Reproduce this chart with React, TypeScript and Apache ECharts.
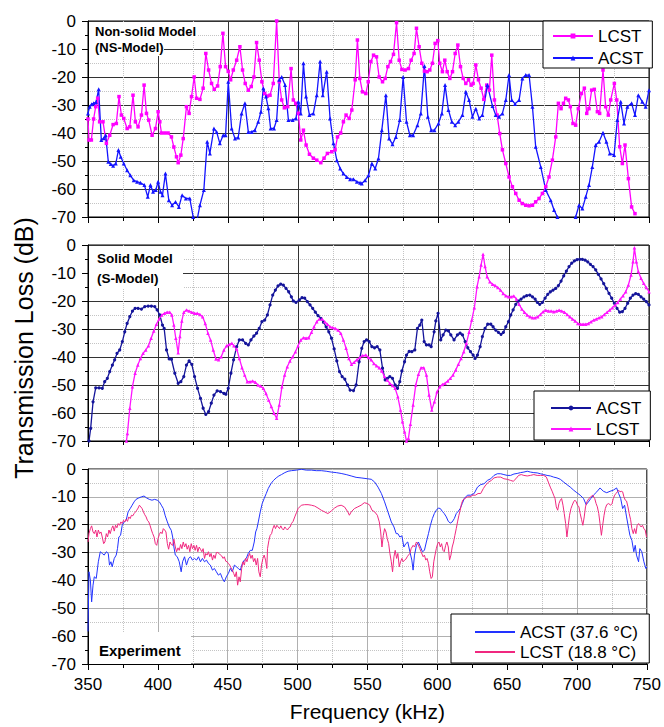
import React, { useEffect, useRef } from 'react';
import * as echarts from 'echarts';

const FONT = '"Liberation Sans", Arial, Helvetica, sans-serif';

const FREQ_MIN = 350;
const FREQ_MAX = 750;
const FREQ_STEP = 50;
const TL_MIN = -70;
const TL_MAX = 0;
const TL_STEP = 10;

const panelTitles = ['Non-solid Model', '(NS-Model)', 'Solid Model', '(S-Model)', 'Experiment'];
const legendNames = {
  ns: ['NS LCST', 'NS ACST'],
  s: ['S ACST', 'S LCST'],
  exp: ['ACST (37.6 °C)', 'LCST (18.8 °C)'],
};

// Non-solid model (top panel)
const nsLcst: [number, number][] = [
  [350, -35], [350.7, -42.5], [352.4, -42.5], [354, -35], [355.5, -30.6], [356.9, -27.6], [358.3, -36], [360.7, -36],
  [363.1, -43.7], [365.5, -40.8], [367.9, -37], [370.2, -36.6], [372.1, -27], [373.8, -33.6], [375.5, -34.8], [377.9, -38.4],
  [379.8, -37.8], [382.1, -26.5], [383.8, -36], [385.7, -37.8], [388.1, -33.6], [390, -22.9], [391.7, -33], [393.3, -35.4],
  [395.7, -40.8], [398.1, -38.4], [400, -32.4], [401.2, -36], [402.4, -40], [404.8, -40], [407.1, -40], [409.5, -41.4],
  [411.2, -45], [413.1, -48.5], [414.3, -50.6], [416.2, -47.9], [417.9, -42], [420.2, -30.6], [422.1, -33], [423.8, -27],
  [425.7, -20], [427.4, -27.6], [429.8, -28], [432.1, -24], [434, -11.6], [436, -17.5], [438.1, -22.3], [440, -24.4],
  [442.4, -23.2], [444.3, -16.3], [446.2, -4.4], [448.1, -16.3], [450, -18], [451.7, -21], [453.6, -17.5], [456, -14],
  [458.3, -9.2], [460.2, -17.5], [462.1, -22.3], [464.3, -24.7], [466.4, -23.4], [468.3, -20], [470.2, -7.7], [472.1, -14],
  [474, -21.7], [476, -25.9], [477.9, -26.8], [479.8, -26.5], [482.1, -22.3], [484.5, 0], [486.4, -21.7], [488.1, -28.2],
  [490, -31], [492.4, -30.6], [494.8, -17], [496.4, -28.2], [498.1, -29.4], [500, -33], [501.7, -42.5], [503.6, -39],
  [505.5, -44.3], [507.9, -47.6], [510.7, -49], [513.1, -49.7], [516, -50.6], [518.3, -49], [520.7, -47.3], [523.8, -46.7],
  [526.2, -46], [527.9, -41.4], [530.2, -40], [532.1, -36], [534, -33.6], [536.2, -34.8], [538.1, -31.8], [540.5, -21],
  [542.1, -6.8], [543.8, -20.5], [545.7, -25.3], [548.1, -25.9], [549.8, -21.7], [551.7, -14.5], [553.6, -12.2], [555.7, -12.8],
  [557.6, -20], [560, -21.7], [561.9, -20.5], [563.8, -16.3], [565.7, -14.5], [567.8, -11.9], [570, -0.6], [571.9, -14],
  [573.8, -17.3], [576.1, -17.5], [578.5, -17], [580.4, -14], [582.5, -11.6], [584.2, -2.6], [586.1, -9.2], [588, -15.1],
  [589.9, -17.9], [591.8, -18.1], [593.7, -17.5], [595.6, -15.1], [597.5, -8], [599.4, -7], [600.8, -15.1], [602.7, -18.1],
  [604.4, -14], [606.1, -18.1], [608, -20.5], [609.9, -18.1], [611.8, -11.6], [613.7, -8.6], [615.6, -16.3], [617.5, -20.5],
  [619.4, -22.3], [621.3, -21], [623.2, -22.9], [624.6, -22.3], [626.5, -15.7], [628.4, -21], [630.3, -24], [632.2, -28],
  [634.3, -22.9], [636.2, -24.7], [637.9, -12.2], [639.8, -28.2], [641.7, -33.6], [643.6, -40.2], [645.5, -46], [647.9, -50.9],
  [650.2, -55.7], [652.6, -59.2], [655, -61.6], [657.4, -64], [659.7, -65.2], [662.1, -65.8], [664.5, -66], [666.9, -65.8],
  [669.2, -64.6], [671.6, -63.4], [674, -61.6], [676.4, -59.2], [678.7, -55.7], [681.1, -49.7], [683.5, -41.4], [685.4, -29.4],
  [687.3, -31.3], [689, -29.4], [690.6, -27.6], [692.5, -28.2], [693.9, -30.6], [695.8, -36.6], [697.7, -37.2], [699.6, -31.3],
  [701.8, -25.9], [703.9, -24], [705.6, -33], [707.2, -31.3], [709.1, -24.7], [711, -24.4], [713.2, -32.4], [714.8, -33],
  [717.2, -17.5], [719.1, -30.6], [721, -33.6], [722.7, -28.2], [725.3, -22.3], [727, -28.2], [729.1, -44.9], [731, -50.9],
  [732.9, -44.3], [735.3, -56.3], [737.6, -66.4], [740, -68.8],
];

const nsAcst: [number, number][] = [
  [350, -33], [351.2, -30.6], [352.6, -29.7], [354, -29.4], [355.7, -29], [357.6, -24.4], [359.5, -42.5], [361.2, -41.9],
  [362.6, -40.8], [364.5, -50.3], [366.2, -51.1], [367.9, -51.7], [369.8, -50.9], [371.7, -46.1], [373.3, -48.5], [375.5, -50.9],
  [377.9, -53.3], [380.2, -55.1], [382.6, -56.9], [385, -57.4], [387.4, -57.8], [390.2, -58.6], [392.6, -62.8], [394.5, -58.6],
  [396.4, -61], [398.3, -60.4], [400, -57.4], [401.7, -61], [403.1, -62.2], [405.2, -54.5], [407.6, -64], [410, -65.8],
  [412.4, -64.6], [414.8, -66.4], [417.1, -62.2], [419.8, -63.4], [422.6, -63.4], [425, -70], [427.4, -72], [429.8, -65.8],
  [432.6, -60.4], [435, -43.1], [436.9, -47.3], [439.8, -38.4], [441.7, -39.6], [444, -43.7], [446.4, -40.8], [448.1, -40.8],
  [450, -21.7], [452.4, -38.4], [454.8, -42], [457.1, -41.6], [459.5, -33], [461.9, -29.4], [464.3, -39.6], [466.7, -39.6],
  [469, -39], [471.4, -36], [473.3, -32.4], [475, -24], [476.9, -27], [478.6, -31.2], [480.2, -38.4], [482.6, -38.4],
  [484.5, -35.4], [486.4, -21], [488.1, -20], [490.5, -22.9], [492.9, -35.4], [495.9, -35.4], [498.3, -34.8], [500, -28.8],
  [501.7, -33], [503.6, -15.1], [505.5, -27], [507.9, -33.6], [510.7, -33], [513.1, -26.5], [515.5, -14.5], [517.4, -26.5],
  [520.2, -18.1], [522.6, -34.8], [525, -43.7], [527.4, -49.7], [529.8, -52.7], [532.1, -54.5], [534.5, -55.7], [536.9, -56.5],
  [539.3, -56.5], [541.7, -57.4], [544, -57.8], [545.2, -58], [547.6, -56.9], [550, -55.1], [552.4, -50.9], [554.8, -52.7],
  [557.1, -49.1], [559.5, -39], [562.4, -26.5], [564.7, -42], [567.1, -44], [569.5, -41.4], [572.3, -35.4], [574.7, -20],
  [577.1, -36], [579.5, -40.8], [581.8, -40.8], [584.9, -37.2], [587.3, -33], [589.9, -16.1], [592.3, -34.2], [594.7, -39],
  [597, -39], [599.9, -36.6], [602.3, -33], [604.6, -22.9], [607, -31.8], [609.4, -36], [611.8, -37.2], [614.1, -36],
  [617, -33.6], [619.4, -25.3], [621.7, -28.2], [624.1, -34.2], [626.5, -31.3], [628.9, -34.8], [631.2, -33.6], [634.8, -22.9],
  [638.4, -30.4], [640.7, -33.6], [643.1, -34.2], [645.5, -33], [647.9, -28.2], [650.2, -19.3], [652.1, -28.2], [654.5, -29.6],
  [657.4, -28.2], [659.7, -20.5], [662.1, -19.3], [664.5, -19.3], [666.9, -30.6], [669.2, -44.9], [672.8, -52.1], [676.4, -60.4],
  [679.9, -64], [682.3, -67.5], [684.7, -70], [688.2, -72], [694.2, -72], [697.7, -70], [700.1, -65.8], [702.5, -67],
  [704.9, -62.8], [707.2, -58.6], [709.6, -52.1], [712, -44.3], [714.4, -43.1], [717.2, -39.9], [719.6, -43.1], [722, -47.3],
  [725.1, -47.9], [727.4, -35.4], [729.8, -28.8], [732.2, -36.6], [734.6, -30.6], [737.6, -29.4], [740, -33.6], [742.4, -26.5],
  [745.2, -28.8], [747.6, -30.6], [750, -24.7],
];

// Solid model (middle panel)
const sAcst: [number, number][] = [
  [350.7, -70], [351.9, -65.5], [353.6, -56], [355.5, -51], [357.9, -51], [360.2, -51.2], [361.9, -48.8], [363.8, -47.6],
  [365.5, -45.2], [367.4, -42.9], [369, -41], [370.7, -38.7], [372.6, -37.5], [374.5, -34.5], [376.2, -31], [377.9, -28],
  [379.8, -25.6], [381.7, -23.6], [383.6, -22.6], [385.7, -22.6], [388.1, -22.9], [390.5, -22], [392.9, -21.8], [395.2, -21.8],
  [397.6, -22], [399.3, -23.2], [401.2, -25], [403.1, -28.6], [404.3, -29.8], [406, -37.5], [407.9, -40.7], [409.5, -40.8],
  [411.9, -45.8], [414.3, -49.4], [416.2, -48.8], [418.3, -47], [420.2, -42.9], [422.1, -41.4], [424, -42.6], [426, -47],
  [428.1, -51.2], [430.2, -54.8], [432.1, -58.3], [434, -60.5], [436, -59.5], [437.9, -56.5], [439.8, -53.6], [442.1, -52.1],
  [444.5, -52.4], [446.9, -53], [448.3, -53.3], [450, -51.2], [451.9, -45.8], [453.8, -41], [456, -36.3], [457.9, -33.9],
  [460.2, -33.9], [462.4, -35.1], [464.3, -35.7], [466.2, -33.9], [468.3, -32.5], [470.2, -31.5], [472.1, -29.8], [474, -27.4],
  [476, -26.8], [477.9, -25], [479.8, -21.4], [481.7, -17.9], [483.6, -16.1], [485.5, -14.6], [487.4, -14], [489.3, -14.3],
  [491.2, -15.5], [493.1, -16.7], [495, -18.5], [496.4, -20], [498.3, -20.5], [500.7, -19.6], [502.6, -18.8], [504.5, -19],
  [506.4, -20.2], [508.3, -21.4], [510.2, -22.6], [512.1, -24], [514, -25.2], [516, -26.2], [517.9, -27.6], [519.8, -29.2],
  [521.7, -31], [523.6, -33.3], [525.5, -37.1], [527.4, -41.4], [529.3, -45.2], [531.2, -47], [533.1, -47.9], [535, -50],
  [536.9, -51.8], [539.3, -52], [541.2, -50], [543.3, -41.7], [545.2, -36.9], [546.9, -34.5], [548.6, -33.9], [550.5, -34.5],
  [552.4, -36.3], [554.3, -36.7], [556.2, -36.3], [558.1, -37.5], [560, -44], [561.9, -48.2], [563.5, -47.6], [565.2, -47],
  [567.1, -47.6], [569, -50], [570.7, -51.2], [572.3, -48.8], [573.8, -45], [575.7, -41.7], [577.1, -39.3], [579, -38],
  [580.9, -38.1], [583, -37.5], [584.9, -29.8], [586.6, -28.6], [588, -26.8], [589.7, -34.5], [591.3, -35.7], [593.2, -35.7],
  [594.7, -36.3], [596.8, -31], [598, -27.1], [599.6, -24.4], [601.5, -33.9], [603.2, -32.1], [605.1, -30.4], [607, -30.7],
  [608.7, -32.1], [611, -33.9], [613.4, -32.1], [615.3, -31.5], [617, -32.1], [618.9, -34.5], [620.8, -36.7], [622.7, -38.1],
  [624.6, -39.3], [626, -40.5], [627.7, -39.3], [629.6, -36.3], [631.2, -32.7], [633.1, -29.8], [635, -28.3], [637.2, -28.3],
  [638.8, -29.2], [640.7, -30.4], [642.6, -31.2], [644.5, -31.9], [646.2, -31.2], [647.9, -29.2], [649.8, -27.4], [651.4, -25],
  [653.1, -23.2], [655, -21.2], [656.9, -20], [658.8, -19.3], [660.9, -18.5], [662.8, -18.1], [665, -17.9], [666.9, -18.5],
  [668.8, -19.3], [670.4, -20.5], [672.1, -21.2], [674, -20.5], [675.9, -19], [677.8, -17.6], [679.7, -16.7], [681.6, -16.1],
  [683.5, -15.5], [685.4, -14.5], [687.3, -12.9], [689.2, -11], [691.1, -9.3], [693, -7.7], [694.9, -6.5], [696.8, -5.7],
  [698.7, -5.2], [700.6, -5.1], [702.5, -5.1], [704.4, -5.4], [706.3, -6], [708.2, -6.9], [710.1, -7.7], [712, -8.9],
  [713.9, -10.5], [715.8, -12.1], [717.7, -13.8], [719.6, -15.5], [721.5, -17.3], [723.4, -19], [725.3, -20.8], [727.2, -22.6],
  [729.1, -24], [731, -23.8], [732.9, -22.6], [734.8, -20.8], [736.7, -19], [738.6, -17.9], [740.5, -17.4], [742.4, -17.6],
  [744.3, -18.5], [746.2, -19.3], [748.1, -20.2], [750, -21.4],
];

const sLcst: [number, number][] = [
  [377.4, -70], [378.1, -67.3], [379.8, -58.3], [381.7, -50.6], [383.6, -45.8], [385.5, -42.9], [387.4, -40.5], [389.3, -38.7],
  [391.2, -37.5], [393.1, -36], [395, -33.3], [396.9, -30.7], [398.8, -28.3], [400.7, -26.4], [402.6, -25], [404.5, -24.4],
  [406.4, -24], [408.3, -24], [409.8, -25], [411.2, -28.6], [412.6, -33.3], [414.3, -38.5], [415.5, -32.7], [416.9, -27.1],
  [418.3, -24], [420.2, -23.2], [422.1, -23.6], [424, -24], [426, -24.4], [427.9, -24.4], [429.8, -24.8], [431.7, -25.6],
  [433.6, -28], [435.5, -31.5], [437.4, -33.9], [439.3, -37.5], [441.2, -40.7], [443.1, -41], [445, -39.9], [446.9, -37.5],
  [448.8, -36], [450.7, -35.5], [452.6, -35.1], [454, -36], [456, -37.1], [457.9, -40.5], [459.8, -43.8], [461.7, -46.4],
  [463.6, -48.8], [465.5, -48.8], [467.4, -48.6], [469.3, -49], [471.2, -50], [473.1, -50.4], [475, -51.2], [476.9, -53],
  [478.8, -55.4], [480.7, -57.7], [482.6, -60.1], [484.5, -61.9], [486.4, -57.1], [488.3, -50.6], [490.2, -46.4], [492.1, -43.5],
  [494, -41.4], [496, -39.9], [497.9, -38.1], [499.8, -36], [501.7, -33.9], [503.6, -33.1], [505.5, -33.3], [507.4, -33.1],
  [509.3, -31.2], [511.2, -29.2], [513.1, -27.4], [515, -26.4], [516.9, -26.4], [518.8, -27.4], [520.7, -28.3], [522.6, -29.2],
  [524.5, -29.5], [526.4, -29.8], [528.3, -30.4], [530.2, -31.5], [532.1, -33.9], [534, -36.9], [536, -40.5], [537.9, -42.6],
  [539.8, -41.9], [541.7, -41], [543.8, -40.2], [545.7, -39.5], [548.1, -39.3], [550, -40.2], [551.9, -41], [553.8, -42.3],
  [555.7, -43.1], [557.6, -43.8], [559.5, -45], [561.4, -47], [563.3, -48.2], [565.2, -49.4], [567.1, -50.2], [569, -51.2],
  [570.9, -54.2], [572.8, -58.9], [574.2, -63.1], [575.7, -66.7], [577.1, -70], [578.5, -69], [579.9, -64], [581.8, -57.1],
  [583.7, -50], [585.6, -46.2], [587.5, -43.8], [589.4, -43.8], [591.3, -46.4], [593.2, -53.6], [595.1, -58.9], [597, -56],
  [598.9, -52.4], [600.8, -50.6], [602.7, -49.8], [604.6, -49.4], [606.5, -48.6], [608.4, -47.6], [610.3, -46.4], [612.2, -44.6],
  [614.1, -42.6], [616, -40.5], [617.9, -38.1], [619.8, -35.1], [621.7, -31.2], [623.6, -26.8], [625.5, -22.4], [627.4, -14.9],
  [628.9, -11.3], [630.3, -7.1], [631.7, -3.3], [633.1, -7.7], [634.6, -11.3], [636.5, -13.1], [638.4, -14], [640.3, -14.5],
  [642.2, -15.2], [644.1, -16.1], [646, -17.3], [647.9, -18.1], [649.8, -18.5], [651.7, -18.5], [653.6, -18.2], [655.5, -19.3],
  [657.4, -21.2], [659.3, -22.9], [661.2, -24], [663.1, -25], [665, -25.6], [666.9, -26], [668.8, -26], [670.7, -25.6],
  [672.6, -24.8], [674.5, -23.8], [676.4, -23.3], [678.3, -23.6], [680.2, -23.6], [682.1, -23.8], [684, -23.6], [685.9, -23.3],
  [687.8, -23.6], [689.7, -24], [691.6, -24.8], [693.5, -25.6], [695.4, -26.4], [697.3, -27.1], [699.2, -28], [701.1, -28.3],
  [703, -28.3], [704.9, -28.3], [706.8, -28], [708.7, -27.4], [710.6, -26.8], [712.5, -26.4], [714.4, -26], [716.3, -25.6],
  [718.2, -24.8], [720.1, -24], [722, -23.2], [723.9, -22.4], [725.8, -21.4], [727.7, -20.5], [729.6, -19.3], [731.5, -18.1],
  [733.4, -16.7], [735.3, -14.3], [737.2, -10.7], [738.6, -6], [739.6, -1], [741, -6], [742.4, -9.5], [744.3, -11.9],
  [746.2, -13.7], [748.1, -15.2], [750, -16.7],
];

// Experiment (bottom panel)
const expAcst: [number, number][] = [
  [350, -58.3], [350.7, -36.9], [351.7, -39.9], [352.6, -47.7], [353.6, -41.7], [354.5, -38.7], [355.9, -39.3], [357.4, -33.3],
  [358.8, -29.7], [360.2, -30.3], [361.6, -30.9], [363.1, -29.7], [364.5, -30.3], [365.4, -34.5], [366.4, -33.3], [367.3, -35.1],
  [368.8, -32.1], [370.2, -30.9], [371.1, -28.6], [372.1, -24.4], [373.3, -23.8], [374.5, -20.2], [375.9, -19], [377.3, -18.4],
  [378.7, -15.4], [380.2, -14.2], [381.6, -13], [383, -11.8], [384.4, -10.9], [386.3, -10.4], [388.2, -10], [390.1, -9.7],
  [392, -10.4], [393.9, -10.9], [395.8, -11.2], [397.7, -10.9], [399.6, -11.2], [401.1, -11.8], [402.5, -13], [403.9, -14.2],
  [405.3, -16.8], [406.8, -19], [408.2, -20.8], [409.6, -22], [410.6, -24.4], [411.5, -28], [412.5, -30.9], [413.9, -31.5],
  [415.3, -33.3], [416.7, -36.9], [417.7, -33.3], [419.1, -31.5], [420.5, -34.5], [422, -32.1], [423.4, -31.5], [424.8, -32.7],
  [426.2, -32.1], [427.7, -32.7], [429.1, -31.5], [430.5, -33.3], [431.9, -32.1], [433.4, -33.3], [434.8, -32.7], [436.2, -33.9],
  [437.6, -34.5], [439.1, -36.3], [440.5, -35.7], [441.9, -36.9], [443.3, -38.1], [444.8, -37.5], [446.2, -39.3], [447.6, -40.5],
  [449, -38.7], [450.5, -37.5], [451.9, -35.7], [453.3, -36.9], [454.8, -34.5], [456.2, -35.1], [457.6, -35.7], [459, -36.3],
  [460.5, -33.9], [461.9, -32.7], [463.3, -32.1], [464.7, -30.3], [466.2, -29.2], [467.6, -29.2], [469, -26.2], [470, -22.6],
  [470.9, -21.4], [471.9, -19], [473.3, -15.4], [474.7, -12.4], [476.1, -10.6], [477.6, -8.8], [479, -7], [480.9, -5.3],
  [482.8, -4.1], [484.7, -3.2], [486.6, -2.5], [488.5, -2], [490.9, -1.3], [493.2, -0.8], [495.6, -0.6], [499.2, -0.4],
  [502.7, -0.1], [506.3, -0.4], [509.9, -0.4], [513.4, -0.6], [517, -0.6], [520.5, -0.8], [524.1, -1.1], [527.7, -1.3],
  [531.2, -1.6], [534.8, -2], [538.4, -2.5], [541.9, -3], [545.5, -3.2], [550, -3.5], [552.8, -3.7], [555.2, -4.7],
  [557.6, -6.5], [560, -8.8], [562.3, -11.8], [564.7, -15.4], [567.1, -19], [569, -20.8], [570.6, -23.2], [571.8, -23.2],
  [573.2, -24.4], [574.7, -24], [576.1, -28], [577.5, -26.8], [578.9, -26.2], [580.4, -29.7], [581.8, -32.7], [582.7, -36.3],
  [583.7, -30.9], [585.1, -27.4], [586.5, -26.2], [588, -28], [589.4, -29.7], [590.8, -29.2], [592.2, -26.2], [593.7, -23.2],
  [595.1, -20.2], [596.5, -17.8], [597.9, -16], [599.3, -14.8], [600.8, -14], [602.2, -14.2], [603.6, -15.2], [605, -16],
  [606.5, -17.2], [607.9, -18.8], [609.3, -19.4], [610.7, -19], [612.2, -17.8], [613.6, -16], [615, -15.2], [616.4, -14.2],
  [617.9, -12.4], [619.3, -10.6], [621.6, -9.4], [624, -9.4], [626.4, -8.8], [628.8, -6.5], [631.1, -5.6], [633.5, -5.3],
  [635.9, -4.1], [638.3, -3.5], [640.6, -2.3], [643, -1.7], [645.4, -1.7], [647.7, -2], [650.1, -2.3], [652.5, -2.3],
  [654.9, -1.8], [657.2, -1.6], [659.6, -1.3], [662, -1.1], [664.4, -0.8], [666.7, -1.1], [669.1, -1.3], [671.5, -1.4],
  [673.8, -1.7], [676.2, -2], [678.6, -2.3], [681, -2.5], [683.3, -2.9], [685.7, -3.2], [688.1, -3.7], [690.5, -4.7],
  [692.8, -5.6], [695.2, -6.5], [697.6, -7.6], [699.9, -8.5], [702.3, -9.4], [704.7, -10.6], [706.6, -12.8], [708.2, -11.8],
  [709.9, -10.6], [711.8, -9.4], [714.2, -8.2], [716.5, -6.8], [718.9, -8], [721.3, -8.5], [723.7, -8], [726, -7.6],
  [728.4, -6.8], [729.8, -8.8], [731.3, -10.6], [732.7, -14.2], [734.1, -13], [735.5, -17.2], [737, -21.4], [737.9, -23.8],
  [739.3, -25.6], [740.7, -29.7], [741.7, -27.4], [742.6, -30.9], [744.1, -33.3], [745, -28.6], [746.4, -29.7], [747.9, -33.3],
  [749.3, -35.7], [750, -35.1],
];

const expLcst: [number, number][] = [
  [350, -26.2], [350.7, -23.2], [351.7, -21.4], [352.6, -20.4], [353.6, -22.6], [354.5, -23.2], [355.5, -21.9], [356.4, -24.4],
  [357.4, -21.9], [358.3, -23.2], [359.3, -22.6], [360.2, -24.4], [361.2, -26.8], [362.1, -26.2], [363.1, -23.2], [364, -24.4],
  [365, -21.9], [365.9, -23.2], [366.9, -21.4], [367.8, -20.4], [368.8, -22.3], [369.7, -20.2], [370.7, -21.1], [371.6, -19.6],
  [372.6, -20.2], [373.5, -19], [374.5, -19.6], [375.4, -18.4], [376.4, -19], [377.3, -18], [378.3, -18.8], [379.2, -17.2],
  [380.2, -17.8], [381.1, -16.6], [382.1, -16.8], [383, -16], [384, -15.4], [384.9, -14.8], [385.9, -14], [386.8, -13],
  [387.8, -13.6], [388.7, -14.2], [389.7, -15.4], [390.6, -16.4], [391.6, -17.2], [392.5, -18.4], [393.5, -19], [394.4, -20.2],
  [395.4, -21.9], [396.3, -23.2], [397.3, -24.4], [398.2, -26.8], [399.2, -27.4], [400.1, -25], [401.1, -23.5], [402, -22.6],
  [403, -23.2], [403.9, -21.4], [404.9, -21.9], [405.8, -22.6], [406.8, -26.8], [407.7, -28.8], [408.7, -26.2], [409.6, -27.1],
  [410.6, -27.4], [411.5, -25.2], [412.5, -28], [413.4, -29.7], [414.4, -28.3], [415.3, -29.2], [416.3, -27.1], [417.2, -28.6],
  [418.2, -26.2], [419.1, -28], [420.1, -26.8], [421, -28.8], [422, -27.4], [422.9, -29.7], [423.9, -26.8], [424.8, -28.6],
  [425.8, -27.4], [426.7, -29.2], [427.7, -27.4], [428.6, -29.7], [429.6, -28], [430.5, -28.8], [431.5, -29.7], [432.4, -28.6],
  [433.4, -32.1], [434.3, -30.3], [435.3, -30.9], [436.2, -29.7], [437.2, -31.5], [438.1, -30.3], [439.1, -32.7], [440, -30.9],
  [441, -32.1], [441.9, -30], [442.9, -30], [443.8, -30.3], [444.8, -30.9], [445.7, -31.2], [446.7, -32.1], [447.6, -31.5],
  [448.6, -33.1], [449.5, -33.3], [450.5, -33.9], [451.4, -34.5], [452.4, -35.5], [453.3, -36.3], [454.3, -37.5], [455.2, -38.7],
  [456.2, -36.9], [457.1, -41.7], [458.1, -38.7], [459, -40.5], [460, -35.7], [460.9, -33.3], [461.9, -34.5], [462.8, -32.1],
  [463.8, -33.3], [464.7, -31.5], [465.7, -30.3], [466.6, -32.1], [467.6, -30.9], [468.5, -33.3], [469.5, -32.1], [470.4, -34.5],
  [471.4, -32.1], [472.3, -36.9], [473.3, -38.7], [474.2, -34.5], [475.2, -32.1], [476.1, -30.9], [477.1, -32.7], [478, -35.7],
  [478.5, -28.6], [479.5, -25.6], [480.4, -23.8], [481.4, -23.2], [482.3, -21.4], [483.3, -20.2], [484.2, -21.4], [485.2, -20.2],
  [486.1, -20.8], [487.1, -21.4], [488, -20.4], [489, -21.4], [489.9, -21.9], [490.9, -20.8], [491.8, -21.4], [492.8, -21.9],
  [493.7, -21.1], [494.7, -20.8], [495.6, -19.6], [496.8, -18.8], [498, -17.2], [499.2, -15.7], [500.4, -14.2], [502.7, -13],
  [505.1, -12.8], [507.5, -12.8], [509.9, -13], [512.2, -13.3], [514.6, -14], [517, -14.8], [519.4, -15.4], [521.7, -16],
  [524.1, -15.1], [526.5, -14], [528.8, -13.3], [531.2, -13], [533.6, -13.6], [536, -15.4], [537.1, -16.6], [538.4, -15.4],
  [540.7, -14.2], [543.1, -13.6], [545.5, -13], [547.8, -12.1], [550, -12.4], [551.7, -13], [553.3, -14.8], [555.2, -15.4],
  [557.1, -16.6], [558.5, -19], [559.5, -22.6], [560.4, -28], [561.4, -23.8], [562.3, -21.4], [563.3, -22.6], [564.2, -25],
  [565.2, -26.8], [566.1, -30.3], [567.1, -33.3], [568, -36.9], [569, -31.5], [569.9, -29.2], [570.9, -32.1], [571.8, -30.3],
  [572.8, -35.1], [573.7, -33.3], [574.7, -32.1], [575.6, -33.3], [576.6, -32.7], [577.5, -32.4], [578.5, -31.5], [579.4, -30.9],
  [580.4, -30.3], [581.3, -28.6], [582.7, -27.4], [583.7, -28], [585.1, -26.2], [586.1, -26.8], [587.5, -28.6], [588.4, -29.7],
  [589.9, -31.5], [590.8, -30.9], [591.8, -32.7], [592.7, -32.1], [593.7, -33.9], [594.6, -36.9], [595.6, -39.3], [596.5, -38.7],
  [597.5, -33.3], [598.4, -30.9], [599.3, -28.6], [600.3, -26.8], [601.2, -26.2], [602.2, -28], [603.1, -26.8], [604.1, -29.2],
  [605, -29.7], [606, -27.4], [606.9, -26.2], [607.9, -28], [608.8, -32.7], [609.8, -30.9], [610.7, -28], [611.7, -26.2],
  [612.6, -23.8], [613.6, -21.4], [614.5, -19], [615.5, -16.6], [616.4, -14.8], [617.4, -12.4], [618.3, -11.2], [619.8, -10.6],
  [621.6, -10], [623.5, -10], [625.4, -9.4], [627.3, -9.4], [629.2, -8.8], [631.1, -8.8], [633, -7], [634.9, -5.6],
  [636.8, -4.7], [638.7, -4.1], [640.6, -3.2], [643, -2.9], [645.4, -2.9], [647.7, -3.5], [650.1, -3.7], [652.5, -4.1],
  [654.4, -4.4], [656.3, -3.5], [658.2, -2.3], [660.1, -2], [662, -2.3], [664.4, -2.5], [666.7, -2.3], [669.1, -2],
  [671.5, -2.3], [673.8, -2.3], [676.2, -2.3], [678.1, -2.9], [679.5, -4.7], [680.9, -6.5], [682.4, -8.2], [683.3, -9.4],
  [684.3, -10.6], [685.2, -13.6], [686.2, -14.8], [687.1, -12.4], [688.1, -11.2], [689, -10.6], [690, -13], [690.9, -16],
  [691.9, -19.6], [692.8, -24.4], [693.8, -20.2], [694.7, -16.6], [695.7, -14.2], [696.6, -13], [697.6, -11.8], [698.5, -11.2],
  [699.5, -11.8], [700.4, -13], [701.4, -13.6], [702.3, -16], [703.3, -18.2], [704.2, -20.2], [705.2, -17.2], [706.1, -13.6],
  [707.1, -11.8], [708.5, -10.6], [709.9, -10], [711.3, -9.4], [712.7, -10.6], [713.7, -12.4], [714.6, -13.6], [715.6, -16],
  [716.5, -19.6], [717.5, -23.8], [718.4, -20.2], [719.4, -16.6], [720.3, -14.2], [721.3, -12.8], [722.7, -12.4], [724.1, -13],
  [725.1, -12.4], [726, -10.6], [727, -9.4], [727.9, -8.8], [728.9, -8.2], [729.8, -7.6], [730.8, -8.2], [731.7, -8],
  [732.7, -8.2], [733.6, -10], [734.6, -11.2], [735.5, -11.5], [736.5, -13.6], [737.4, -16], [738.4, -18.2], [739.3, -21.4],
  [740.3, -23.2], [741.2, -21.4], [742.2, -23.2], [743.1, -20.2], [744.1, -19.6], [745, -20.2], [745.9, -20.8], [746.9, -20.2],
  [747.9, -21.4], [748.8, -21.9], [749.8, -24.4],
];

const COLORS = {
  nsLcst: '#ff00ff',
  nsAcst: '#1414ff',
  sAcst: '#14149a',
  sLcst: '#ff14ff',
  expAcst: '#2233ff',
  expLcst: '#f0287f',
};

function buildOption() {
  const panels = [
    { top: 21, height: 196, major: '#333333' },
    { top: 245, height: 196, major: '#333333' },
    { top: 469, height: 195, major: '#b0b0b0' },
  ];
  const grid = panels.map((p) => ({
    left: 88,
    width: 561,
    top: p.top,
    height: p.height,
    show: true,
    borderColor: '#000',
    borderWidth: 1,
    backgroundColor: 'transparent',
  }));
  const xAxis = panels.map((p, i) => ({
    type: 'value',
    gridIndex: i,
    min: FREQ_MIN,
    max: FREQ_MAX,
    interval: FREQ_STEP,
    axisLine: { show: true, onZero: false, lineStyle: { color: '#000', width: 1 } },
    axisTick: { show: true, inside: false, length: 6, lineStyle: { color: '#000', width: 1 } },
    minorTick: { show: true, splitNumber: 2, length: 4, lineStyle: { color: '#000', width: 1 } },
    splitLine: { show: true, lineStyle: { color: p.major, width: 1 } },
    minorSplitLine: { show: true, lineStyle: { color: '#c4c4c4', width: 1, type: 'dotted' } },
    axisLabel: { show: i === 2, color: '#000', fontSize: 17, fontFamily: FONT, margin: 12 },
    name: i === 2 ? 'Frequency (kHz)' : '',
    nameLocation: 'middle',
    nameGap: 37,
    nameTextStyle: { fontSize: 21, fontFamily: FONT, color: '#000' },
  }));
  const yAxis = panels.map((p, i) => ({
    type: 'value',
    gridIndex: i,
    min: TL_MIN,
    max: TL_MAX,
    interval: TL_STEP,
    axisLine: { show: true, onZero: false, lineStyle: { color: '#000', width: 1 } },
    axisTick: { show: true, inside: false, length: 6, lineStyle: { color: '#000', width: 1 } },
    minorTick: { show: true, splitNumber: 2, length: 3, lineStyle: { color: '#000', width: 1 } },
    splitLine: { show: true, lineStyle: { color: p.major, width: 1 } },
    minorSplitLine: { show: true, lineStyle: { color: '#c4c4c4', width: 1, type: 'dotted' } },
    axisLabel: { show: true, color: '#000', fontSize: 17, fontFamily: FONT, margin: 12 },
  }));

  const mk = (name: string, idx: number, data: [number, number][], color: string, symbol: string, size: number, width: number) => ({
    name,
    type: 'line',
    xAxisIndex: idx,
    yAxisIndex: idx,
    data,
    symbol,
    showSymbol: symbol !== 'none',
    symbolSize: size,
    clip: true,
    silent: true,
    lineStyle: { color, width },
    itemStyle: { color },
    emphasis: { disabled: true },
  });

  const series = [
    mk(legendNames.ns[0], 0, nsLcst, COLORS.nsLcst, 'rect', 3.5, 1.3),
    mk(legendNames.ns[1], 0, nsAcst, COLORS.nsAcst, 'triangle', 4, 1.3),
    mk(legendNames.s[0], 1, sAcst, COLORS.sAcst, 'circle', 3.2, 1.3),
    mk(legendNames.s[1], 1, sLcst, COLORS.sLcst, 'triangle', 3.5, 1.3),
    mk(legendNames.exp[0], 2, expAcst, COLORS.expAcst, 'none', 0, 1),
    mk(legendNames.exp[1], 2, expLcst, COLORS.expLcst, 'none', 0, 1),
  ];

  const legendBase = {
    orient: 'vertical',
    backgroundColor: '#fff',
    borderColor: '#000',
    borderWidth: 1,
    borderRadius: 0,
    itemWidth: 40,
    itemHeight: 6,
    selectedMode: false,
    align: 'left',
    textStyle: { fontSize: 17, fontFamily: FONT, color: '#000', lineHeight: 18 },
    formatter: (n: string) => n.replace(/^(NS|S) /, ''),
  };

  const legend = [
    { ...legendBase, left: 543, top: 21, padding: [6, 9, 1, 9], itemGap: 4, data: legendNames.ns },
    { ...legendBase, left: 534, top: 391, padding: [8, 9, 2, 16], itemGap: 3, data: legendNames.s },
    {
      ...legendBase, left: 451, top: 614, padding: [9, 11, 2, 23], itemGap: 2, data: legendNames.exp,
      itemStyle: { opacity: 0 },
    },
  ];

  const txt = (text: string, x: number, y: number, size: number, weight = 'bold') => ({
    type: 'text',
    x,
    y,
    z: 1,
    silent: true,
    style: {
      text,
      fill: '#000',
      fontSize: size,
      fontWeight: weight,
      fontFamily: FONT,
      textAlign: 'left',
      textVerticalAlign: 'middle',
    },
  });
  const box = (x: number, y: number, w: number, h: number) => ({
    type: 'rect',
    z: 1,
    silent: true,
    shape: { x, y, width: w, height: h },
    style: { fill: '#fff', stroke: null },
  });

  const graphic = [
    box(89, 22, 109, 18),
    box(89, 40, 75, 16),
    txt(panelTitles[0], 95, 31, 13),
    txt(panelTitles[1], 95, 47.5, 13),
    box(89, 246, 94, 42),
    txt(panelTitles[2], 97, 258.5, 13.5),
    txt(panelTitles[3], 97, 278.5, 13.5),
    box(89, 632, 102, 32),
    txt(panelTitles[4], 99, 650.5, 15),
    {
      type: 'text',
      x: 24,
      y: 348,
      rotation: Math.PI / 2,
      silent: true,
      style: {
        text: 'Transmission Loss (dB)',
        fill: '#000',
        fontSize: 25,
        fontFamily: FONT,
        textAlign: 'center',
        textVerticalAlign: 'middle',
      },
    },
  ];

  return {
    animation: false,
    backgroundColor: '#fff',
    grid,
    xAxis,
    yAxis,
    series,
    legend,
    graphic,
  };
}

export default function App() {
  const ref = useRef<HTMLDivElement>(null);
  useEffect(() => {
    if (!ref.current) return;
    const chart = echarts.init(ref.current, null, { renderer: 'svg' });
    chart.setOption(buildOption() as any);
    return () => {
      chart.dispose();
    };
  }, []);
  return (
    <div
      ref={ref}
      style={{ position: 'fixed', left: 0, top: 0, width: 664, height: 727, background: '#fff' }}
    />
  );
}
